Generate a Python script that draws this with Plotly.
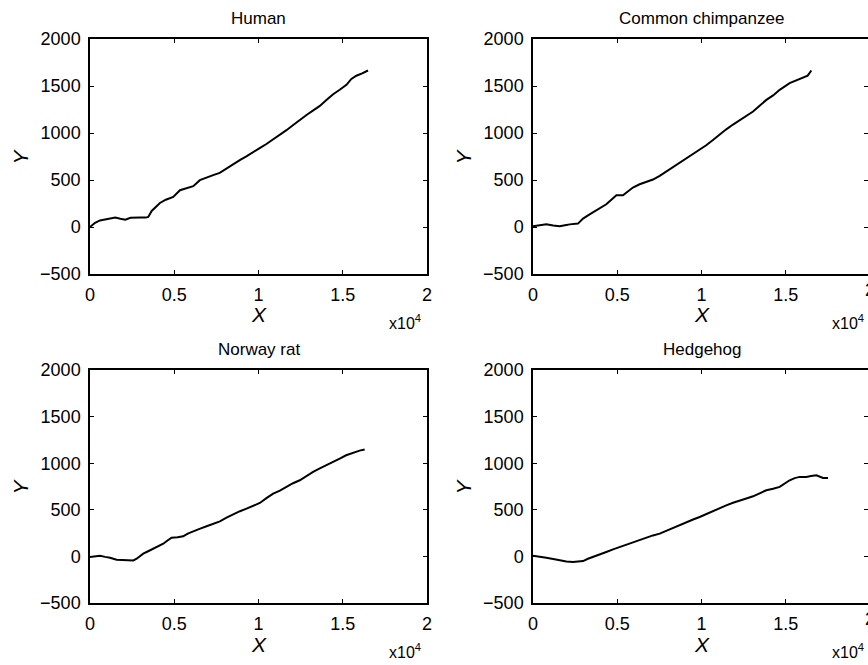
import plotly.graph_objects as go

W, H = 868, 665

titles = ["Human", "Common chimpanzee", "Norway rat", "Hedgehog"]

human_x = [0, 300, 590, 900, 1190, 1500, 1800, 2100, 2400, 2700, 3000, 3300, 3460, 3660, 3900, 4150, 4500, 4940, 5340, 5700, 6130, 6520, 6900, 7310, 7700, 8100, 8500, 8890, 9280, 9680, 10070, 10470, 10860, 11260, 11660, 12060, 12450, 12850, 13250, 13640, 14030, 14430, 14820, 15220, 15510, 15810, 16150, 16500]
human_y = [0, 45, 70, 80, 89, 100, 88, 78, 98, 96, 100, 100, 107, 171, 215, 256, 290, 320, 391, 410, 434, 498, 520, 552, 575, 623, 665, 712, 752, 801, 840, 883, 930, 979, 1030, 1085, 1140, 1192, 1240, 1288, 1350, 1413, 1460, 1512, 1575, 1609, 1635, 1665]

chimp_x = [0, 400, 790, 1200, 1580, 1900, 2180, 2670, 2970, 3360, 3760, 4050, 4350, 4650, 4950, 5340, 5930, 6330, 6730, 7120, 7520, 7910, 8310, 8700, 9100, 9500, 9890, 10280, 10680, 11070, 11470, 11870, 12270, 12660, 13060, 13450, 13850, 14250, 14640, 15230, 15620, 16020, 16300, 16520]
chimp_y = [7, 20, 28, 15, 7, 18, 28, 36, 89, 135, 178, 210, 242, 290, 338, 338, 420, 455, 480, 505, 545, 590, 640, 685, 730, 775, 818, 870, 925, 985, 1039, 1090, 1139, 1185, 1228, 1290, 1352, 1400, 1459, 1530, 1560, 1594, 1610, 1665]

rat_x = [0, 300, 590, 900, 1190, 1580, 1900, 2170, 2570, 2770, 3160, 3450, 3750, 4050, 4350, 4600, 4840, 5200, 5530, 5800, 6130, 6500, 6920, 7300, 7710, 8100, 8500, 8900, 9290, 9700, 10080, 10470, 10870, 11270, 11660, 12050, 12450, 12850, 13240, 13640, 14030, 14420, 14820, 15200, 15610, 16000, 16300]
rat_y = [-7, 0, 7, -5, -14, -36, -36, -36, -43, -25, 29, 55, 82, 110, 136, 170, 201, 205, 215, 245, 272, 295, 323, 345, 376, 415, 452, 485, 512, 545, 573, 625, 674, 705, 746, 785, 817, 865, 907, 945, 978, 1010, 1050, 1085, 1115, 1135, 1147]

hedge_x = [0, 400, 790, 1200, 1580, 1980, 2370, 2970, 3260, 3560, 3950, 4350, 4750, 5140, 5540, 5930, 6330, 6730, 7120, 7520, 7910, 8310, 8700, 9100, 9500, 9890, 10280, 10680, 11070, 11470, 11870, 12270, 12660, 13060, 13450, 13850, 14250, 14640, 15230, 15530, 15830, 16220, 16500, 16820, 17210, 17510]
hedge_y = [7, 0, -14, -28, -43, -55, -61, -50, -25, -7, 22, 47, 75, 100, 128, 154, 182, 208, 225, 244, 275, 308, 340, 369, 396, 423, 455, 487, 518, 548, 575, 602, 622, 645, 680, 710, 725, 746, 817, 840, 853, 853, 862, 871, 842, 842]

series = [(human_x, human_y), (chimp_x, chimp_y), (rat_x, rat_y), (hedge_x, hedge_y)]

y_ticks = [-500, 0, 500, 1000, 1500, 2000]
x_ticks = [0, 5000, 10000, 15000, 20000]
x_tick_text = ["0", "0.5", "1", "1.5", "2"]

# pixel boxes of the four axes (left, right, top, bottom)
boxes = [(90, 427, 39, 274), (533, 870, 39, 274), (90, 427, 370, 603), (533, 870, 370, 603)]

FONT = "Liberation Sans"
fig = go.Figure()
annotations = []

for i, ((xs, ys), (l, r, t, b), title) in enumerate(zip(series, boxes, titles)):
    n = i + 1
    xa = "x" if n == 1 else f"x{n}"
    ya = "y" if n == 1 else f"y{n}"
    fig.add_trace(go.Scatter(x=xs, y=ys, mode="lines", xaxis=xa, yaxis=ya,
                             line=dict(color="black", width=2), showlegend=False))
    r_vis = min(r, W)
    xmax = 20000 * (r_vis - l) / (r - l)
    common = dict(showgrid=False, zeroline=False, showline=True, linecolor="black",
                  linewidth=1.5, mirror="ticks", ticks="inside", ticklen=4,
                  tickcolor="black", tickwidth=1, automargin=False,
                  tickfont=dict(family=FONT, size=18, color="black"))
    fig.layout[f"xaxis{'' if n == 1 else n}"] = dict(
        domain=[l / W, r_vis / W], range=[0, xmax], anchor=ya,
        tickvals=x_ticks, ticktext=x_tick_text, ticklabelstandoff=4, **common)
    fig.layout[f"yaxis{'' if n == 1 else n}"] = dict(
        domain=[1 - b / H, 1 - t / H], range=[-500, 2000], anchor=xa,
        tickvals=y_ticks, ticklabelstandoff=4, **common)
    cx = (l + r) / 2
    cy = (t + b) / 2
    annotations.append(dict(text=title, x=cx / W, y=1 - (t - 21) / H, xref="paper", yref="paper",
                            xanchor="center", yanchor="middle", showarrow=False,
                            font=dict(family=FONT, size=17, color="black")))
    annotations.append(dict(text="<i>X</i>", x=cx / W, y=1 - (b + 41) / H, xref="paper", yref="paper",
                            xanchor="center", yanchor="middle", showarrow=False,
                            font=dict(family=FONT, size=21, color="black")))
    annotations.append(dict(text="<i>Y</i>", x=(l - 70) / W, y=1 - cy / H, xref="paper", yref="paper",
                            xanchor="center", yanchor="middle", showarrow=False, textangle=-90,
                            font=dict(family=FONT, size=21, color="black")))
    annotations.append(dict(text="x10<sup>4</sup>", x=(r - 40) / W, y=1 - (b + 60) / H,
                            xref="paper", yref="paper", xanchor="left", yanchor="bottom",
                            showarrow=False, font=dict(family=FONT, size=16, color="black")))
    if r > W:
        annotations.append(dict(text="2", x=r / W, y=1 - (b + 16) / H, xref="paper", yref="paper",
                                xanchor="center", yanchor="middle", showarrow=False,
                                font=dict(family=FONT, size=18, color="black")))

fig.update_layout(width=W, height=H, template="none",
                  margin=dict(l=0, r=0, t=0, b=0, pad=0, autoexpand=False),
                  paper_bgcolor="white", plot_bgcolor="white", annotations=annotations)

fig.write_html("out.html", config={"displayModeBar": False},
               post_script="document.body.style.margin='0';document.body.style.overflow='hidden';")
